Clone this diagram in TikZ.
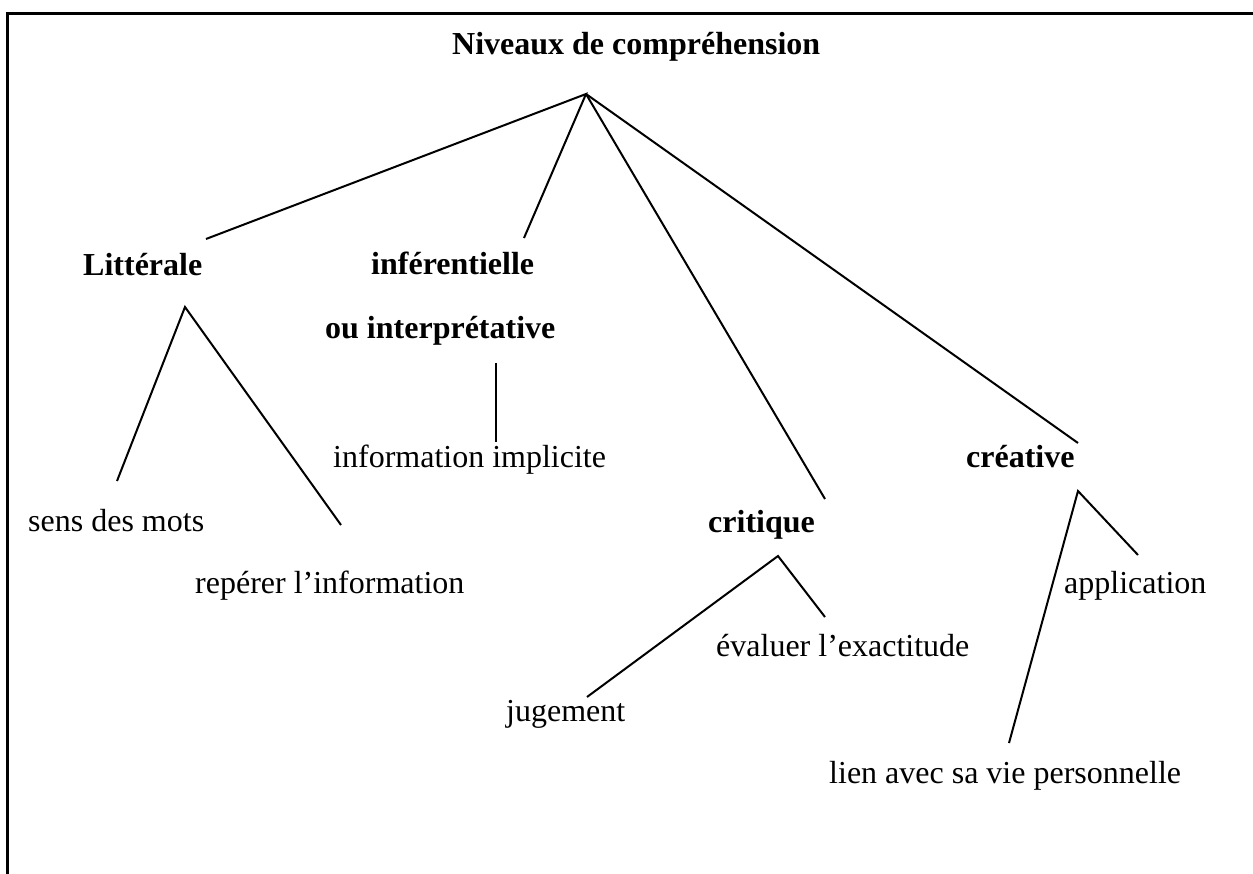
\documentclass[tikz,border=0pt]{standalone}
\usepackage{fontspec}
\setmainfont{Liberation Serif}
\begin{document}
\begin{tikzpicture}[x=1pt,y=-1pt,
  lbl/.style={anchor=base west,inner sep=0pt,font=\fontsize{32}{38}\selectfont},
  head/.style={anchor=base west,inner sep=0pt,font=\fontsize{32}{38}\selectfont\bfseries},
  branch/.style={line width=2pt},
  framestyle/.style={line width=3pt}]
\useasboundingbox (0,0) rectangle (1253,874);
% frame (top and left sides only)
\coordinate (fbl) at (7,874);
\coordinate (ftl) at (7,14);
\coordinate (ftr) at (1253,14);
\draw[framestyle] (fbl) -- (ftl) -- (ftr);
% texts
\node[head] (title) at (452,55) {Niveaux de compréhension};
\node[head] (lit) at (83,276) {Littérale};
\node[head] (inf) at (371,275) {inférentielle};
\node[head] (interp) at (325,339) {ou interprétative};
\node[head] (crit) at (708,532) {critique};
\node[head] (crea) at (966,467) {créative};
\node[lbl] (sens) at (28,531) {sens des mots};
\node[lbl] (rep) at (195,593) {repérer l’information};
\node[lbl] (impl) at (333,467) {information implicite};
\node[lbl] (eval) at (716,656) {évaluer l’exactitude};
\node[lbl] (jug) at (506,721) {jugement};
\node[lbl] (appl) at (1064,593) {application};
\node[lbl] (lien) at (829,783) {lien avec sa vie personnelle};
% connector end points
\coordinate (apex) at (586,94);
\coordinate (litTop) at (206,239);
\coordinate (infTop) at (524,238);
\coordinate (critTop) at (825,499);
\coordinate (creaTop) at (1078,443);
\coordinate (litFork) at (185,307);
\coordinate (sensTop) at (117,481);
\coordinate (repTop) at (341,525);
\coordinate (interpBot) at (496,363);
\coordinate (implTop) at (496,442);
\coordinate (critFork) at (778,556);
\coordinate (jugTop) at (587,697);
\coordinate (evalTop) at (825,617);
\coordinate (creaFork) at (1078,491);
\coordinate (applTop) at (1138,555);
\coordinate (lienTop) at (1009,743);
% connectors
\draw[branch] (litTop) -- (apex) -- (infTop);
\draw[branch] (apex) -- (critTop);
\draw[branch] (apex) -- (creaTop);
\draw[branch] (sensTop) -- (litFork) -- (repTop);
\draw[branch] (interpBot) -- (implTop);
\draw[branch] (jugTop) -- (critFork) -- (evalTop);
\draw[branch] (lienTop) -- (creaFork) -- (applTop);
\end{tikzpicture}
\end{document}
